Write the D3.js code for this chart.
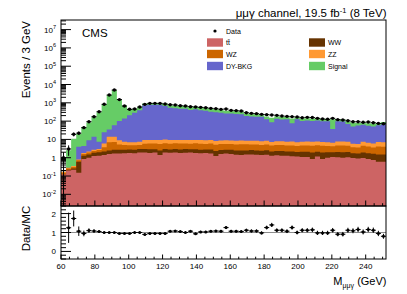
<!DOCTYPE html>
<html>
<head>
<meta charset="utf-8">
<script src="https://cdn.jsdelivr.net/npm/d3@7/dist/d3.min.js"></script>
<style>
html,body{margin:0;padding:0;background:#fff;}
svg{display:block;font-family:"Liberation Sans",Arial,Helvetica,sans-serif;}
</style>
</head>
<body>
<svg id="chart" width="407" height="294"></svg>
<script>
// ---------------- data ----------------
const binEdges = d3.range(60, 252, 3);   // lower edges of 3 GeV bins, 60..249
const binWidth = 3;

const dataCounts = [1, 3, 19, 22, 44, 93, 174, 326, 828, 2670, 5000, 1500, 668, 441, 460, 590,
  824, 935, 935, 935, 860, 790, 758, 697, 668, 615, 590, 565, 542, 499, 480, 440,
  460, 388, 373, 356, 289, 266, 255, 234, 225, 216, 207, 190, 182, 175, 168, 154,
  161, 157, 142, 130, 126, 142, 120, 115, 105, 93, 93, 86, 89, 82, 75, 72];

const ttbar = [0.12, 0.2, 0.22, 0.15, 0.85, 1.0, 1.25, 1.3, 1.4, 1.6, 1.7, 1.7, 1.75, 1.8, 1.75, 1.9,
  1.9, 1.8, 1.9, 1.4, 1.9, 1.85, 1.9, 1.8, 1.85, 1.9, 1.8, 1.75, 1.8, 1.7, 1.25, 1.6,
  1.7, 1.6, 1.45, 1.4, 1.5, 1.5, 1.45, 1.4, 1.45, 1.3, 1.35, 1.3, 1.3, 1.2, 1.15, 1.1,
  1.1, 0.85, 1.15, 0.85, 1.0, 1.1, 1.05, 1.0, 1.05, 0.95, 0.9, 0.95, 0.85, 0.75, 0.6, 0.6];

const wwBkg = [0, 0.02, 0.04, 0.45, 0.45, 0.5, 0.6, 0.7, 0.8, 0.9, 1.0, 1.0, 1.0, 1.0, 1.0, 1.1,
  1.1, 1.1, 1.0, 1.1, 1.1, 1.0, 1.1, 1.0, 1.1, 1.0, 1.1, 1.0, 1.0, 1.1, 1.1, 1.0,
  1.0, 1.1, 1.0, 1.1, 1.0, 1.1, 1.0, 1.0, 1.1, 0.9, 1.0, 1.0, 0.9, 1.0, 0.9, 1.0,
  1.0, 1.1, 1.0, 1.1, 1.0, 0.9, 1.0, 1.0, 1.0, 0.8, 0.8, 1.0, 0.9, 0.9, 0.9, 0.9];

const wzBkg = [0.03, 0.04, 0.05, 0.12, 0.3, 0.4, 0.5, 0.6, 1.5, 4.5, 4.5, 2.6, 2.2, 2.0, 2.0, 2.0,
  2.8, 3.0, 3.0, 3.2, 3.2, 3.0, 3.1, 3.2, 3.0, 2.9, 3.2, 3.0, 2.9, 3.1, 2.8, 3.0,
  2.9, 3.0, 2.8, 3.0, 2.9, 2.7, 2.8, 2.6, 2.8, 2.4, 2.6, 2.7, 2.4, 2.5, 2.3, 2.5,
  2.6, 2.5, 2.6, 2.5, 2.4, 2.2, 2.6, 2.7, 2.5, 2.0, 1.9, 2.5, 2.3, 2.0, 2.6, 2.5];

const zzBkg = [0.02, 0.02, 0.04, 0.08, 0.2, 0.3, 0.35, 0.4, 2.3, 7.0, 7.0, 3.7, 2.5, 2.2, 2.3, 2.5,
  3.5, 3.5, 3.4, 3.6, 3.6, 3.5, 3.3, 3.4, 3.3, 3.5, 3.2, 3.4, 3.2, 3.3, 3.0, 3.2,
  3.4, 3.1, 3.2, 3.3, 3.0, 3.1, 3.2, 3.0, 3.1, 2.6, 2.9, 3.0, 2.8, 2.9, 2.6, 2.8,
  3.0, 3.1, 3.0, 2.8, 2.7, 2.4, 3.0, 3.1, 2.9, 2.0, 2.0, 2.9, 2.6, 2.3, 3.1, 3.0];

const dyBkg = [0, 0, 0, 3.2, 2.5, 6.8, 11.4, 4.5, 19, 21, 46, 91, 130, 200, 280, 380,
  720, 780, 780, 770, 650, 520, 500, 470, 460, 400, 430, 380, 360, 320, 300, 280,
  250, 250, 240, 230, 180, 170, 165, 165, 120, 80, 125, 115, 120, 70, 120, 95,
  100, 95, 100, 92, 90, 30, 92, 87, 62, 45, 52, 55, 50, 45, 52, 60];

const signal = [0, 2.3, 10.6, 16, 41.7, 76, 147, 302, 803, 2635, 4940, 1480, 565, 257, 173, 202,
  186, 195, 195, 205, 245, 209, 192, 185, 198, 166, 195, 160, 157, 137, 136, 122,
  106, 104, 100, 100, 70, 68, 63, 66, 51, 66, 53, 47, 43, 62, 41, 36,
  36, 35, 37, 34, 32, 90, 32, 31, 25, 34, 22, 22, 20, 22, 20, 23];

const ratio = [null, 1.25, 1.74, 1.07, 0.95, 1.1, 1.08, 1.05, 1.0, 1.0, 1.0, 0.95, 0.95, 0.95, 1.0, 1.0,
  0.9, 0.95, 0.95, 0.95, 0.95, 1.07, 1.08, 1.05, 1.0, 1.07, 0.93, 1.03, 1.03, 1.07, 1.08, 1.07,
  1.26, 1.07, 1.07, 1.05, 1.12, 1.08, 1.08, 0.98, 1.26, 1.4, 1.12, 1.12, 1.07, 1.26, 1.0, 1.12,
  1.12, 1.14, 0.98, 0.98, 0.98, 1.12, 0.91, 0.91, 1.12, 1.09, 1.16, 1.03, 1.16, 1.12, 0.95, 0.8];

const ratioErr = [0, 0.8, 0.42, 0.25, 0.15, 0.12, 0.09, 0.07, 0.05, 0.04, 0.04, 0.04, 0.05, 0.05, 0.05, 0.05,
  0.05, 0.05, 0.05, 0.05, 0.05, 0.05, 0.05, 0.05, 0.05, 0.06, 0.06, 0.06, 0.06, 0.06, 0.06, 0.07,
  0.08, 0.07, 0.07, 0.07, 0.08, 0.08, 0.08, 0.08, 0.1, 0.11, 0.1, 0.1, 0.1, 0.11, 0.1, 0.11,
  0.11, 0.12, 0.11, 0.11, 0.11, 0.12, 0.11, 0.12, 0.13, 0.13, 0.14, 0.13, 0.14, 0.14, 0.14, 0.13];

const processKeys = ["tt", "ww", "wz", "zz", "dy", "sig"];
const processLabels = ["tt\u0304", "WW", "WZ", "ZZ", "DY-BKG", "Signal"];
const processColors = ["#cd6464", "#663300", "#cc6600", "#ff9933", "#6666cc", "#66cc66"];

const xTickValues = [60, 80, 100, 120, 140, 160, 180, 200, 220, 240];
const yDecades = [-2, -1, 0, 1, 2, 3, 4, 5, 6, 7];
const ratioTickValues = [0, 1, 2];

// ---------------- layout ----------------
const L = 61, R = 386, T = 20, MID = 206, B = 259;
const svg = d3.select("#chart");

const x = d3.scaleLinear().domain([60, 252]).range([L, R]);
const yMin = 0.0023;
const y = d3.scaleLog().domain([yMin, 3.35e7]).range([MID, T]).clamp(true);
const yr = d3.scaleLinear().domain([-0.4, 2.4]).range([B, MID]);

const table = binEdges.map((e, i) => ({
  lo: e, tt: ttbar[i], ww: wwBkg[i], wz: wzBkg[i], zz: zzBkg[i], dy: dyBkg[i], sig: signal[i]
}));
const series = d3.stack().keys(processKeys)(table);

// clip for main panel
svg.append("clipPath").attr("id", "mainclip").append("rect")
  .attr("x", L).attr("y", T).attr("width", R - L).attr("height", MID - T);
svg.append("clipPath").attr("id", "ratioclip").append("rect")
  .attr("x", L).attr("y", MID).attr("width", R - L).attr("height", B - MID);

const gMain = svg.append("g").attr("clip-path", "url(#mainclip)");

const area = d3.area()
  .curve(d3.curveStepAfter)
  .x(d => x(d.x))
  .y0(() => y(yMin))
  .y1(d => y(Math.max(d.v, yMin)));

// draw cumulative stacks from the top one down (ROOT THStack style)
for (let k = series.length - 1; k >= 0; k--) {
  const s = series[k];
  const pts = s.map((d, i) => ({ x: binEdges[i], v: d[1] }));
  pts.push({ x: binEdges[binEdges.length - 1] + binWidth, v: s[s.length - 1][1] });
  gMain.append("path").attr("d", area(pts)).attr("fill", processColors[k]).attr("stroke", "none");
}

// data points with errors
const gData = gMain.append("g").attr("stroke", "#000").attr("stroke-width", 1);
dataCounts.forEach((n, i) => {
  const cx = x(binEdges[i] + binWidth / 2);
  const e = Math.sqrt(n);
  gData.append("line").attr("x1", cx).attr("x2", cx)
    .attr("y1", y(Math.max(n - e, yMin))).attr("y2", y(n + e));
  gData.append("line").attr("x1", x(binEdges[i])).attr("x2", x(binEdges[i] + binWidth))
    .attr("y1", y(n)).attr("y2", y(n));
  gMain.append("circle").attr("cx", cx).attr("cy", y(n)).attr("r", 1.7).attr("fill", "#000");
});

// ratio panel
const gRatio = svg.append("g").attr("clip-path", "url(#ratioclip)");
gRatio.append("line").attr("x1", L).attr("x2", R).attr("y1", yr(1)).attr("y2", yr(1))
  .attr("stroke", "#8c8c8c").attr("stroke-width", 1);
ratio.forEach((r, i) => {
  if (r == null) return;
  const cx = x(binEdges[i] + binWidth / 2);
  gRatio.append("line").attr("x1", cx).attr("x2", cx)
    .attr("y1", yr(r - ratioErr[i])).attr("y2", yr(r + ratioErr[i])).attr("stroke", "#000");
  gRatio.append("line").attr("x1", x(binEdges[i])).attr("x2", x(binEdges[i] + binWidth))
    .attr("y1", yr(r)).attr("y2", yr(r)).attr("stroke", "#000");
  gRatio.append("circle").attr("cx", cx).attr("cy", yr(r)).attr("r", 1.5).attr("fill", "#000");
});

// frames
svg.append("rect").attr("x", L).attr("y", T).attr("width", R - L).attr("height", MID - T)
  .attr("fill", "none").attr("stroke", "#000").attr("stroke-width", 1);
svg.append("rect").attr("x", L).attr("y", MID).attr("width", R - L).attr("height", B - MID)
  .attr("fill", "none").attr("stroke", "#000").attr("stroke-width", 1);

// ticks
const gt = svg.append("g").attr("stroke", "#000").attr("stroke-width", 1);
// main y ticks
for (let d = -3; d <= 7; d++) {
  for (let m = 1; m <= 9; m++) {
    const v = m * Math.pow(10, d);
    if (v < yMin || v > 3.35e7) continue;
    const len = m === 1 ? 10 : 5;
    gt.append("line").attr("x1", L).attr("x2", L + len).attr("y1", y(v)).attr("y2", y(v));
  }
}
// x ticks (main bottom and ratio bottom)
for (let g = 60; g <= 250; g += 5) {
  const major = (g - 60) % 20 === 0;
  gt.append("line").attr("x1", x(g)).attr("x2", x(g)).attr("y1", MID).attr("y2", MID - (major ? 5.5 : 2.8));
  gt.append("line").attr("x1", x(g)).attr("x2", x(g)).attr("y1", B).attr("y2", B - (major ? 4.5 : 2.3));
}
// ratio y ticks
for (let v = -0.4; v <= 2.401; v += 0.2) {
  const major = Math.abs(v - Math.round(v)) < 1e-6;
  gt.append("line").attr("x1", L).attr("x2", L + (major ? 10 : 5)).attr("y1", yr(v)).attr("y2", yr(v));
}

// tick labels
const tickFont = 8;
xTickValues.forEach(g => {
  svg.append("text").attr("x", x(g)).attr("y", 268.5).attr("text-anchor", "middle")
    .attr("font-size", tickFont).text(g);
});
yDecades.forEach(d => {
  const t = svg.append("text").attr("x", 56).attr("y", y(Math.pow(10, d)) + 3)
    .attr("text-anchor", "end").attr("font-size", tickFont);
  if (d === 0) t.text("1");
  else if (d === 1) t.text("10");
  else {
    t.append("tspan").text("10");
    t.append("tspan").attr("dy", -3.5).attr("font-size", 5.5).text(d);
  }
});
ratioTickValues.forEach(v => {
  svg.append("text").attr("x", 56).attr("y", yr(v) + 3).attr("text-anchor", "end")
    .attr("font-size", tickFont).text(v);
});

// axis titles
svg.append("text").attr("transform", "translate(29.5,21) rotate(-90)")
  .attr("text-anchor", "end").attr("font-size", 11.5).text("Events / 3 GeV");
svg.append("text").attr("transform", "translate(29.5,228.5) rotate(-90)")
  .attr("text-anchor", "middle").attr("font-size", 11.5).text("Data/MC");
const xt = svg.append("text").attr("x", 386.5).attr("y", 285).attr("text-anchor", "end").attr("font-size", 11);
xt.append("tspan").text("M");
xt.append("tspan").attr("dy", 2.5).attr("font-size", 7).text("\u03bc\u03bc\u03b3");
xt.append("tspan").attr("dy", -2.5).text(" (GeV)");

// title
const tt = svg.append("text").attr("x", 386.5).attr("y", 16.5).attr("text-anchor", "end").attr("font-size", 11.5);
tt.append("tspan").text("\u03bc\u03bc\u03b3 channel, 19.5 fb");
tt.append("tspan").attr("dy", -4).attr("font-size", 7.5).text("-1");
tt.append("tspan").attr("dy", 4).text(" (8 TeV)");

svg.append("text").attr("x", 82).attr("y", 37.3).attr("font-size", 11.5).text("CMS");

// legend
const legFont = 7;
svg.append("circle").attr("cx", 215).attr("cy", 31).attr("r", 1.6).attr("fill", "#000");
svg.append("text").attr("x", 226).attr("y", 33.5).attr("font-size", legFont).text("Data");
const legendRowsY = [42.5, 54, 66];
const legendColsX = [[207, 226], [309, 328]];
const legendOrder = [[0, 1], [2, 3], [4, 5]];
legendOrder.forEach((row, r) => {
  row.forEach((k, c) => {
    const cy = legendRowsY[r];
    svg.append("rect").attr("x", legendColsX[c][0]).attr("y", cy - 4.2).attr("width", 16).attr("height", 8.4)
      .attr("fill", processColors[k]);
    svg.append("text").attr("x", legendColsX[c][1]).attr("y", cy + 2.5).attr("font-size", legFont)
      .text(processLabels[k]);
  });
});
</script>
</body>
</html>
